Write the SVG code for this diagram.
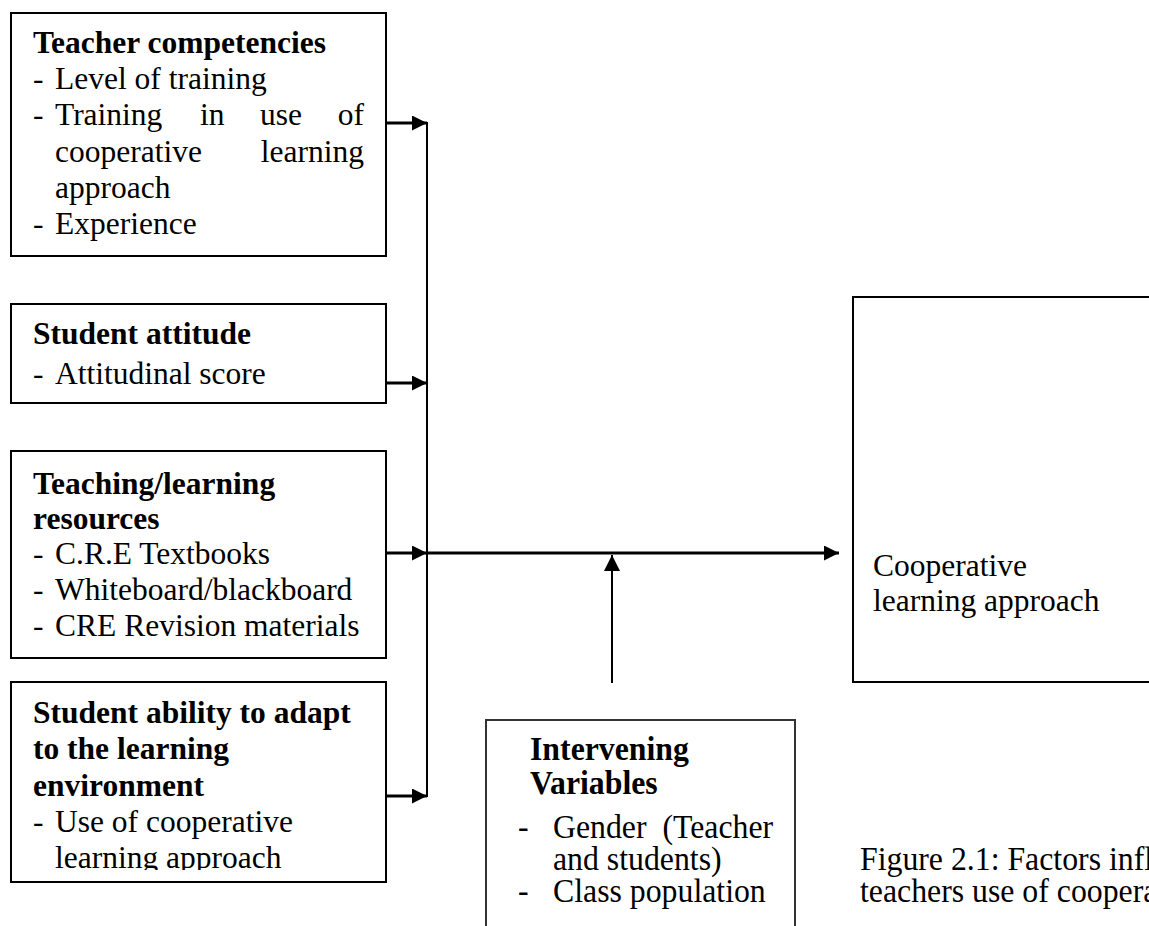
<svg xmlns="http://www.w3.org/2000/svg" width="1149" height="926" viewBox="0 0 1149 926">
  <style>
    .box { fill: #ffffff; stroke: #000000; stroke-width: 2; }
    .t { font-family: "Liberation Serif", "Times New Roman", serif; font-size: 31.5px; fill: #000000; }
    .n { font-family: "Liberation Serif", "Times New Roman", serif; font-size: 34px; fill: #000000; }
    .b { font-weight: bold; }
    .thick { stroke: #000000; stroke-width: 3; fill: none; }
    .thin { stroke: #000000; stroke-width: 2; fill: none; }
  </style>
  <defs>
    <marker id="head" viewBox="0 0 10 10" refX="10" refY="5" markerWidth="5" markerHeight="5" markerUnits="strokeWidth" orient="auto">
      <path d="M0,0 L10,5 L0,10 z" fill="#000000"/>
    </marker>
    <marker id="headThin" viewBox="0 0 10 10" refX="10" refY="5" markerWidth="8" markerHeight="8" markerUnits="strokeWidth" orient="auto">
      <path d="M0,0 L10,5 L0,10 z" fill="#000000"/>
    </marker>
    <clipPath id="clipAdapt">
      <rect x="0" y="682" width="400" height="188"/>
    </clipPath>
  </defs>

  <g id="teacher-competencies">
    <rect class="box" x="11" y="13" width="375" height="243"/>
    <text class="t b" x="33" y="53">Teacher competencies</text>
    <text class="t" x="33" y="89">-</text>
    <text class="t" x="55" y="89">Level of training</text>
    <text class="t" x="33" y="125">-</text>
    <text class="t" x="55" y="125">Training</text>
    <text class="t" x="200" y="125">in</text>
    <text class="t" x="260" y="125">use</text>
    <text class="t" x="364" y="125" text-anchor="end">of</text>
    <text class="t" x="55" y="162">cooperative</text>
    <text class="t" x="364" y="162" text-anchor="end">learning</text>
    <text class="t" x="55" y="198">approach</text>
    <text class="t" x="33" y="234">-</text>
    <text class="t" x="55" y="234">Experience</text>
  </g>

  <g id="student-attitude">
    <rect class="box" x="11" y="304" width="375" height="99"/>
    <text class="t b" x="33" y="344">Student attitude</text>
    <text class="t" x="33" y="384">-</text>
    <text class="t" x="55" y="384">Attitudinal score</text>
  </g>

  <g id="teaching-resources">
    <rect class="box" x="11" y="451" width="375" height="207"/>
    <text class="t b" x="33" y="494">Teaching/learning</text>
    <text class="t b" x="33" y="529">resources</text>
    <text class="t" x="33" y="564">-</text>
    <text class="t" x="55" y="564">C.R.E Textbooks</text>
    <text class="t" x="33" y="600">-</text>
    <text class="t" x="55" y="600">Whiteboard/blackboard</text>
    <text class="t" x="33" y="636">-</text>
    <text class="t" x="55" y="636">CRE Revision materials</text>
  </g>

  <g id="student-ability">
    <rect class="box" x="11" y="682" width="375" height="200"/>
    <text class="t b" x="33" y="723">Student ability to adapt</text>
    <text class="t b" x="33" y="759">to the learning</text>
    <text class="t b" x="33" y="796">environment</text>
    <text class="t" x="33" y="832">-</text>
    <text class="t" x="55" y="832">Use of cooperative</text>
    <text class="t" x="55" y="868" clip-path="url(#clipAdapt)">learning approach</text>
  </g>

  <g id="cooperative-learning">
    <rect class="box" x="853" y="297" width="310" height="385"/>
    <text class="t" x="873" y="576">Cooperative</text>
    <text class="t" x="873" y="611">learning approach</text>
  </g>

  <g id="intervening-variables">
    <rect class="box" x="486" y="720" width="309" height="220" style="stroke:#333333"/>
    <g class="n">
      <text class="b" transform="translate(530,760) scale(0.935,1)">Intervening</text>
      <text class="b" transform="translate(530,794) scale(0.935,1)">Variables</text>
      <text transform="translate(518,838) scale(0.935,1)">-</text>
      <text transform="translate(553,838) scale(0.935,1)" xml:space="preserve">Gender  (Teacher</text>
      <text transform="translate(553,870) scale(0.935,1)">and students)</text>
      <text transform="translate(518,902) scale(0.935,1)">-</text>
      <text transform="translate(553,902) scale(0.935,1)">Class population</text>
    </g>
  </g>

  <g id="caption" class="n">
    <text transform="translate(860,870) scale(0.935,1)">Figure 2.1: Factors influencing</text>
    <text transform="translate(860,902) scale(0.935,1)">teachers use of cooperative</text>
  </g>

  <g id="connectors">
    <!-- feeder arrows into the collecting bar -->
    <line class="thick" x1="386" y1="123" x2="427" y2="123" marker-end="url(#head)"/>
    <line class="thick" x1="386" y1="383" x2="427" y2="383" marker-end="url(#head)"/>
    <line class="thick" x1="386" y1="553" x2="427" y2="553" marker-end="url(#head)"/>
    <line class="thick" x1="386" y1="796" x2="427" y2="796" marker-end="url(#head)"/>
    <!-- collecting bar -->
    <line class="thin" x1="427" y1="122" x2="427" y2="797"/>
    <!-- main flow to outcome -->
    <line class="thick" x1="427" y1="553" x2="839" y2="553" marker-end="url(#head)"/>
    <!-- intervening influence -->
    <line class="thin" x1="612" y1="683" x2="612" y2="555" marker-end="url(#headThin)"/>
  </g>
</svg>
